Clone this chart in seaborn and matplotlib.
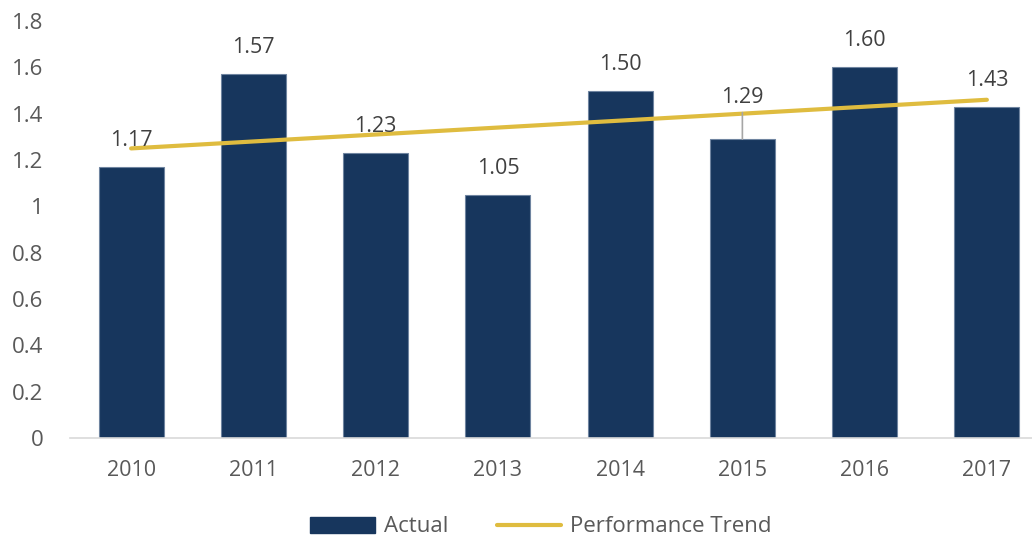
import matplotlib
matplotlib.use('Agg')
import matplotlib.pyplot as plt
import seaborn as sns
import pandas as pd
from matplotlib.patches import Patch
from matplotlib.lines import Line2D

# Values
years = ['2010', '2011', '2012', '2013', '2014', '2015', '2016', '2017']
actual = [1.17, 1.57, 1.23, 1.05, 1.50, 1.29, 1.60, 1.43]
trend_years = ['2010', '2017']
trend = [1.25, 1.46]
y_ticks = [0, 0.2, 0.4, 0.6, 0.8, 1, 1.2, 1.4, 1.6, 1.8]
y_tick_labels = ['0', '0.2', '0.4', '0.6', '0.8', '1', '1.2', '1.4', '1.6', '1.8']

navy = '#17365D'
gold = '#DFBC3F'

sns.set_style('white')
plt.rcParams['font.family'] = ['Open Sans', 'DejaVu Sans']

df = pd.DataFrame({'year': years, 'value': actual})

fig = plt.figure(figsize=(10.32, 5.37), dpi=100)
ax = fig.add_axes([70 / 1032, 99 / 537, 978 / 1032, 417 / 537])

sns.barplot(data=df, x='year', y='value', color=navy, width=0.53,
            edgecolor='#6F84A0', linewidth=0.8, saturation=1, ax=ax)

trend_pos = [years.index(y) for y in trend_years]
sns.lineplot(x=trend_pos, y=trend, color=gold, linewidth=3, ax=ax)

# data labels, 2015 one is pushed up with a leader line
for i, v in enumerate(actual):
    if years[i] == '2015':
        ax.annotate(f'{v:.2f}', xy=(i, v), xytext=(0, 30), textcoords='offset points',
                    ha='center', va='center', fontsize=15.5, color='#404040',
                    arrowprops=dict(arrowstyle='-', color='#A6A6A6', lw=1.2,
                                    shrinkA=1, shrinkB=0))
    else:
        ax.annotate(f'{v:.2f}', xy=(i, v), xytext=(0, 19), textcoords='offset points',
                    ha='center', va='center', fontsize=15.5, color='#404040')

ax.set_xlim(-0.5, 7.5)
ax.set_ylim(0, 1.8)
ax.set_yticks(y_ticks)
ax.set_yticklabels(y_tick_labels)
ax.set_xlabel('')
ax.set_ylabel('')
ax.tick_params(axis='y', length=0, pad=19, labelsize=16, labelcolor='#595959')
ax.tick_params(axis='x', length=0, pad=16, labelsize=15.5, labelcolor='#595959')

for side in ['top', 'right', 'left']:
    ax.spines[side].set_visible(False)
ax.spines['bottom'].set_color('#D9D9D9')
ax.spines['bottom'].set_linewidth(1.2)

handles = [Patch(facecolor=navy, edgecolor=navy),
           Line2D([0], [0], color=gold, linewidth=3)]
fig.legend(handles, ['Actual', 'Performance Trend'], loc='center',
           bbox_to_anchor=(541 / 1032, 10 / 537), ncol=2, frameon=False,
           fontsize=16, labelcolor='#595959', handlelength=2.9, handleheight=0.7,
           handletextpad=0.4, columnspacing=2.2)

fig.savefig('out.png', dpi=100)
